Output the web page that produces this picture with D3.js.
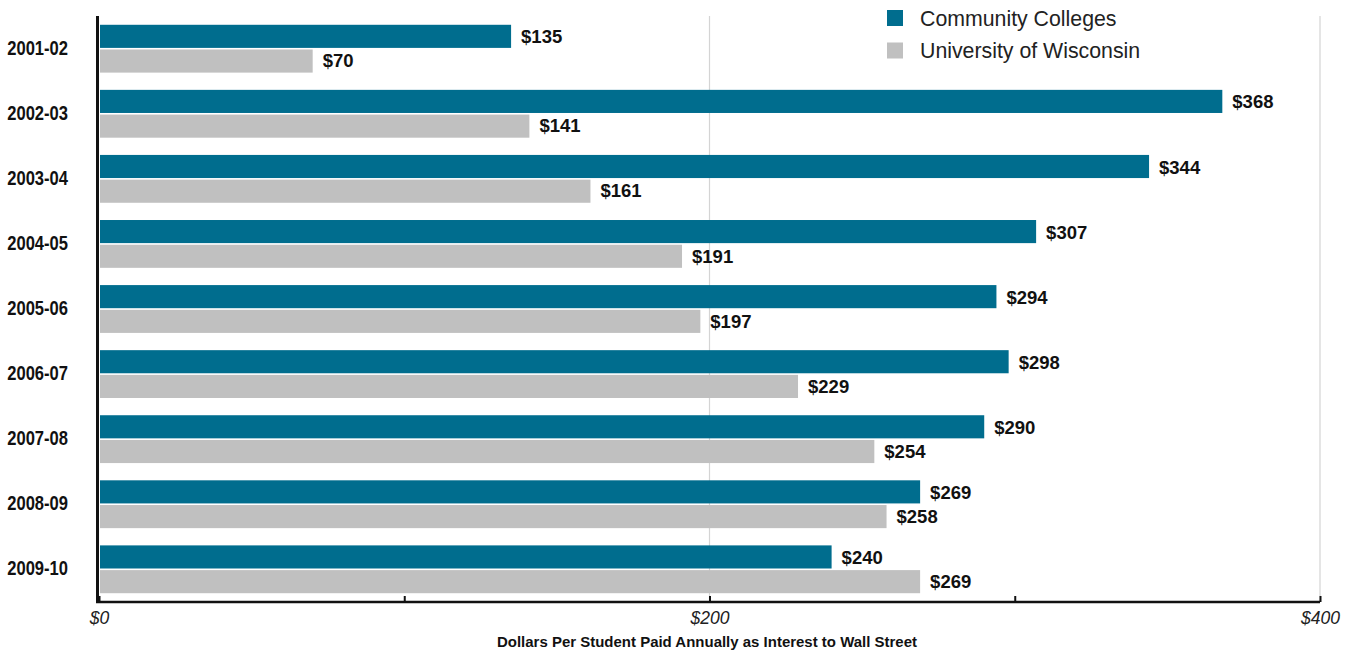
<!DOCTYPE html>
<html>
<head>
<meta charset="utf-8">
<script src="https://cdn.jsdelivr.net/npm/d3@7"></script>
<style>
  html, body { margin: 0; padding: 0; background: #fff; }
  svg { display: block; }
</style>
</head>
<body>
<svg id="chart" width="1353" height="650"></svg>
<script>
// School years shown on the vertical axis
const years = ["2001-02", "2002-03", "2003-04", "2004-05", "2005-06", "2006-07", "2007-08", "2008-09", "2009-10"];
// Dollars per student paid annually as interest
const communityColleges = [135, 368, 344, 307, 294, 298, 290, 269, 240];
const universityWisconsin = [70, 141, 161, 191, 197, 229, 254, 258, 269];
const seriesNames = ["Community Colleges", "University of Wisconsin"];
const seriesColors = ["#006d8e", "#c0c0c0"];
const xTicks = [0, 200, 400];
const xMinorTicks = [100, 300];
const axisTitle = "Dollars Per Student Paid Annually as Interest to Wall Street";

const svg = d3.select("#chart");
const plotLeft = 99, plotRight = 1320, plotTop = 16, plotBottom = 602;

const x = d3.scaleLinear().domain([0, 400]).range([plotLeft, plotRight]);
const y = d3.scaleBand().domain(years).range([plotTop, plotBottom]).paddingInner(0.265).paddingOuter(0.135);
const sub = d3.scaleBand().domain([0, 1]).range([0, y.bandwidth()]).padding(0);

// vertical gridlines
svg.append("g").selectAll("line")
  .data(xTicks.filter(d => d > 0))
  .join("line")
  .attr("x1", d => x(d)).attr("x2", d => x(d))
  .attr("y1", plotTop).attr("y2", plotBottom)
  .attr("stroke", "#d4d4d4").attr("stroke-width", 1.2);

// bars
const rows = years.map((yr, i) => ({ yr, vals: [communityColleges[i], universityWisconsin[i]] }));
const g = svg.append("g").selectAll("g").data(rows).join("g")
  .attr("transform", d => `translate(0,${y(d.yr)})`);

g.selectAll("rect")
  .data(d => d.vals.map((v, k) => ({ v, k })))
  .join("rect")
  .attr("x", x(0) + 1)
  .attr("y", d => sub(d.k) + d.k * 0.8)
  .attr("width", d => x(d.v) - x(0) - 1)
  .attr("height", sub.bandwidth() - 0.8)
  .attr("fill", d => seriesColors[d.k]);

g.selectAll("text")
  .data(d => d.vals.map((v, k) => ({ v, k })))
  .join("text")
  .attr("x", d => x(d.v) + 10)
  .attr("y", d => sub(d.k) + sub.bandwidth() / 2)
  .attr("dy", "0.36em")
  .attr("font-family", "Liberation Sans, Arial, sans-serif")
  .attr("font-weight", "bold")
  .attr("font-size", 18.5)
  .attr("fill", "#111")
  .text(d => "$" + d.v);

// category labels (condensed bold)
svg.append("g").selectAll("text")
  .data(years)
  .join("text")
  .attr("transform", d => `translate(68,${y(d) + y.bandwidth() / 2}) scale(0.85,1)`)
  .attr("dy", "0.3em")
  .attr("text-anchor", "end")
  .attr("font-family", "Liberation Sans, Arial, sans-serif")
  .attr("font-weight", "bold")
  .attr("font-size", 19.5)
  .attr("fill", "#111")
  .text(d => d);

// y axis line
svg.append("line")
  .attr("x1", 97.5).attr("x2", 97.5)
  .attr("y1", plotTop).attr("y2", plotBottom)
  .attr("stroke", "#111").attr("stroke-width", 3);

// x axis
const xAxis = d3.axisBottom(x)
  .tickValues(xTicks.concat(xMinorTicks).sort((a, b) => a - b))
  .tickSize(-6)
  .tickFormat(d => xTicks.includes(d) ? "$" + d : "");
const ax = svg.append("g").attr("transform", `translate(0,${plotBottom})`).call(xAxis);
ax.select(".domain").attr("stroke", "#111").attr("stroke-width", 2.5)
  .attr("d", `M${plotLeft - 3},0H${plotRight}`);
ax.selectAll(".tick line").attr("stroke", "#111").attr("stroke-width", 2);
ax.selectAll(".tick text")
  .attr("y", 10)
  .attr("font-family", "Liberation Sans, Arial, sans-serif")
  .attr("font-style", "italic")
  .attr("font-size", 17.5)
  .attr("fill", "#222");

// axis title
svg.append("text")
  .attr("x", 707)
  .attr("y", 647)
  .attr("text-anchor", "middle")
  .attr("font-family", "Liberation Sans, Arial, sans-serif")
  .attr("font-weight", "bold")
  .attr("font-size", 15.5)
  .attr("textLength", 420)
  .attr("lengthAdjust", "spacingAndGlyphs")
  .attr("fill", "#111")
  .text(axisTitle);

// legend
const lg = svg.append("g").selectAll("g").data(seriesNames).join("g")
  .attr("transform", (d, i) => `translate(887,${10 + i * 32.5})`);
lg.append("rect").attr("width", 16).attr("height", 16).attr("fill", (d, i) => seriesColors[i]);
lg.append("text")
  .attr("x", 33).attr("y", 8).attr("dy", "0.36em")
  .attr("font-family", "Liberation Sans, Arial, sans-serif")
  .attr("font-size", 21.3)
  .attr("fill", "#222")
  .text(d => d);
</script>
</body>
</html>
